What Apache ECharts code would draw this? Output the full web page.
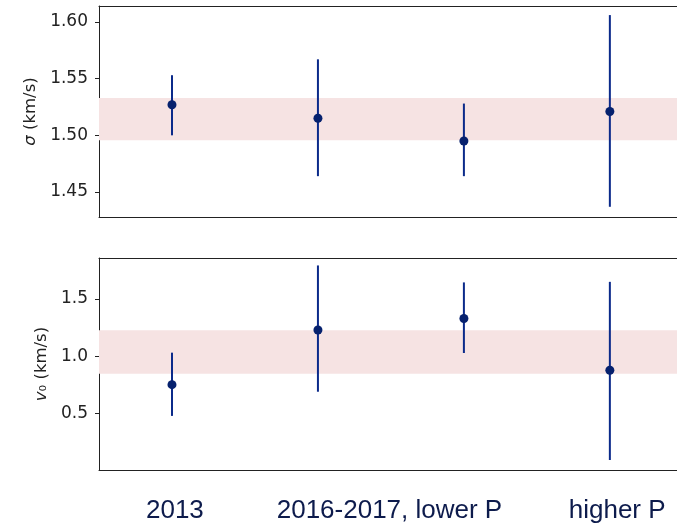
<!DOCTYPE html>
<html>
<head>
<meta charset="utf-8">
<script src="https://cdn.jsdelivr.net/npm/echarts@6/dist/echarts.min.js"></script>
<style>html,body{margin:0;padding:0;background:#fff;}#c{width:677px;height:524px;}</style>
</head>
<body>
<div id="c"></div>
<script>
const xPos = [0, 1, 2, 3];
const sigmaVal = [1.527, 1.515, 1.495, 1.521];
const sigmaLo = [1.500, 1.464, 1.464, 1.437];
const sigmaHi = [1.553, 1.567, 1.528, 1.606];
const sigmaBand = [1.4956, 1.5328];
const v0Val = [0.753, 1.230, 1.330, 0.878];
const v0Lo = [0.480, 0.691, 1.029, 0.095];
const v0Hi = [1.032, 1.793, 1.645, 1.650];
const v0Band = [0.849, 1.227];
const sigmaTicks = [1.45, 1.50, 1.55, 1.60];
const v0Ticks = [0.5, 1.0, 1.5];
const groupLabels = ['2013', '2016-2017, lower P', 'higher P'];
const groupLabelPos = [0.02, 1.49, 3.05];

const lineColor = '#0b2a8a';
const dotColor = '#06216e';
const bandColor = '#f6e3e3';
const axisColor = '#222222';

function errData(lo, hi) { return xPos.map((x, i) => [x, lo[i], hi[i]]); }
function ptData(v) { return xPos.map((x, i) => [x, v[i]]); }

function errSeries(idx, lo, hi) {
  return {
    type: 'custom', xAxisIndex: idx, yAxisIndex: idx, z: 3,
    data: errData(lo, hi),
    renderItem: function (params, api) {
      const a = api.coord([api.value(0), api.value(1)]);
      const b = api.coord([api.value(0), api.value(2)]);
      return { type: 'line', shape: { x1: a[0], y1: a[1], x2: b[0], y2: b[1] },
               style: { stroke: lineColor, lineWidth: 2 } };
    }
  };
}
function ptSeries(idx, v, band) {
  return {
    type: 'scatter', xAxisIndex: idx, yAxisIndex: idx, z: 4,
    symbolSize: 9, itemStyle: { color: dotColor, opacity: 1 },
    data: ptData(v),
    markArea: { silent: true, itemStyle: { color: bandColor },
      data: [[{ yAxis: band[0] }, { yAxis: band[1] }]] }
  };
}

const xMin = -0.5, xMax = 3.46;
const tickLabelStyle = { color: axisColor, fontFamily: 'DejaVu Sans', fontSize: 17, margin: 11 };
const frameLine = { show: true, onZero: false, lineStyle: { color: axisColor, width: 1 } };

function bottomX(grid, withLabels) {
  return { type: 'value', gridIndex: grid, position: 'bottom', min: xMin, max: xMax,
    axisLine: frameLine, axisTick: { show: false }, splitLine: { show: false },
    axisLabel: withLabels ? { show: true, customValues: groupLabelPos, margin: 28,
        color: '#0d1b4c', fontFamily: 'Liberation Sans', fontSize: 26,
        formatter: function (v) { const i = groupLabelPos.indexOf(v); return i >= 0 ? groupLabels[i] : ''; } }
      : { show: false } };
}
function topX(grid) {
  return { type: 'value', gridIndex: grid, position: 'top', min: xMin, max: xMax,
    axisLine: frameLine, axisTick: { show: false }, axisLabel: { show: false }, splitLine: { show: false } };
}

const option = {
  animation: false,
  backgroundColor: '#ffffff',
  grid: [
    { left: 99, top: 6, right: 0, height: 211 },
    { left: 99, top: 258, right: 0, height: 212 }
  ],
  xAxis: [ bottomX(0, false), bottomX(1, true), topX(0), topX(1) ],
  yAxis: [
    { type: 'value', gridIndex: 0, min: 1.428, max: 1.614, axisLine: frameLine,
      axisTick: { show: true, length: 4, customValues: sigmaTicks, lineStyle: { color: axisColor } },
      axisLabel: Object.assign({ customValues: sigmaTicks, formatter: v => v.toFixed(2) }, tickLabelStyle),
      splitLine: { show: false },
      name: '{i|σ} (km/s)', nameLocation: 'middle', nameGap: 57, nameRotate: 90,
      nameTextStyle: { color: axisColor, fontFamily: 'DejaVu Sans', fontSize: 16.5,
        rich: { i: { fontStyle: 'italic', fontFamily: 'DejaVu Sans', fontSize: 16.5, color: axisColor } } } },
    { type: 'value', gridIndex: 1, min: 0.008, max: 1.858, axisLine: frameLine,
      axisTick: { show: true, length: 4, customValues: v0Ticks, lineStyle: { color: axisColor } },
      axisLabel: Object.assign({ customValues: v0Ticks, formatter: v => v.toFixed(1) }, tickLabelStyle),
      splitLine: { show: false },
      name: '{i|v}₀ (km/s)', nameLocation: 'middle', nameGap: 46, nameRotate: 90,
      nameTextStyle: { color: axisColor, fontFamily: 'DejaVu Sans', fontSize: 16.5,
        rich: { i: { fontStyle: 'italic', fontFamily: 'DejaVu Sans', fontSize: 16.5, color: axisColor } } } }
  ],
  series: [
    errSeries(0, sigmaLo, sigmaHi),
    ptSeries(0, sigmaVal, sigmaBand),
    errSeries(1, v0Lo, v0Hi),
    ptSeries(1, v0Val, v0Band)
  ]
};

const chart = echarts.init(document.getElementById('c'), null, { renderer: 'canvas' });
chart.setOption(option);
</script>
</body>
</html>
